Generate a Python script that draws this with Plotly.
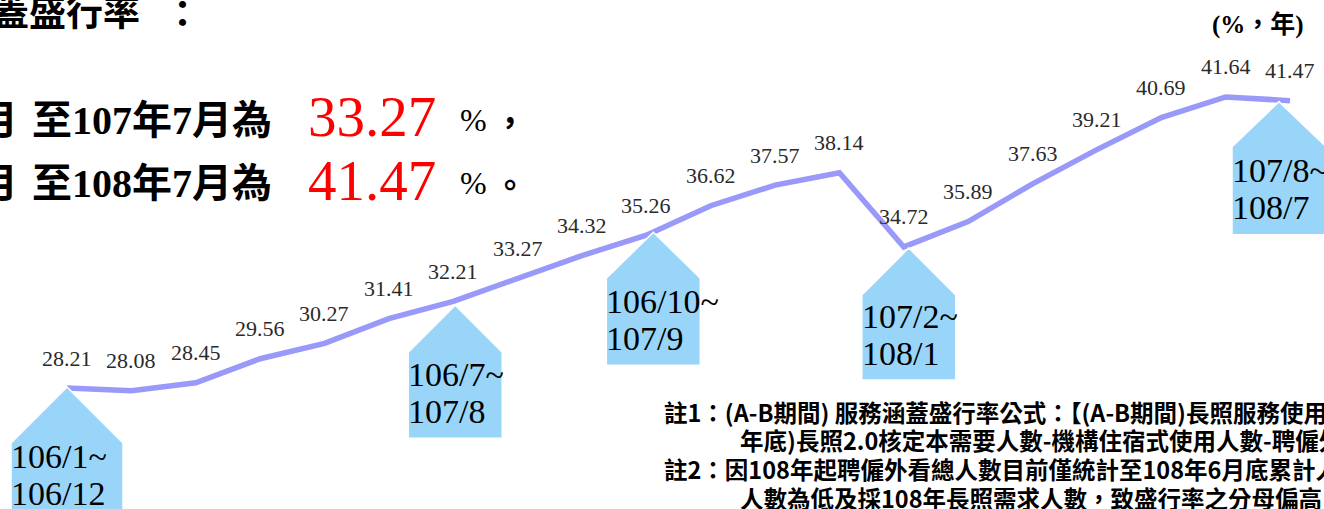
import plotly.graph_objects as go

# ---------------- data ----------------
values = [28.21, 28.08, 28.45, 29.56, 30.27, 31.41, 32.21, 33.27, 34.32, 35.26,
          36.62, 37.57, 38.14, 34.72, 35.89, 37.63, 39.21, 40.69, 41.64, 41.47]
positions = list(range(len(values)))

callout_index = [0, 6, 9, 13, 19]
callout_line1 = ["106/1~", "106/7~", "106/10~", "107/2~", "107/8~"]
callout_line2 = ["106/12", "107/8", "107/9", "108/1", "108/7"]

headline_index = [7, 19]
unit_label = "(%，年)"
title_tail = "蓋盛行率"
line_prefix = ["至107年7月為", "至108年7月為"]
line_end = ["，", "。"]
notes = [
    "註1：(A-B期間) 服務涵蓋盛行率公式：【(A-B期間)長照服務使用",
    "年底)長照2.0核定本需要人數-機構住宿式使用人數-聘僱外",
    "註2：因108年起聘僱外看總人數目前僅統計至108年6月底累計人",
    "人數為低及採108年長照需求人數，致盛行率之分母偏高",
]

# ---------------- layout helpers ----------------
W, H = 1324, 509


def px(x):
    return x / W


def py(y):
    return 1 - y / H


SERIF = "Liberation Serif, Noto Sans CJK TC, serif"
CJK = "Noto Sans CJK TC, sans-serif"

fig = go.Figure()
fig.add_trace(go.Scatter(
    x=positions, y=values, mode="lines",
    line=dict(color="#9999FA", width=5.5),
    hoverinfo="skip",
))

annotations = []
# data labels
for i, v in zip(positions, values):
    annotations.append(dict(
        x=i, y=v, xref="x", yref="y", text=f"{v:.2f}", showarrow=False,
        yshift=30, font=dict(family="Liberation Serif", size=22, color="#2a2a2a"),
    ))

# callouts (pentagon arrows pointing at points)
tip_dx = [0, 2, 7, 5, -11]
tip_dy = [1, -4, 3, -1, -1]
half_w = [56, 47, 47, 47, 47]
shoulder = [56, 47, 46, 47, 45]
height = [175, 133, 133, 132, 133]
shapes = []
for k, idx in enumerate(callout_index):
    dx, dy, hw, sh, h = tip_dx[k], tip_dy[k], half_w[k], shoulder[k], height[k]
    path = (f"M {dx},{dy} L {dx + hw},{dy - sh} L {dx + hw},{dy - h} "
            f"L {dx - hw},{dy - h} L {dx - hw},{dy - sh} Z")
    shapes.append(dict(
        type="path", xref="x", yref="y", xsizemode="pixel", ysizemode="pixel",
        xanchor=positions[idx], yanchor=values[idx], path=path,
        fillcolor="#99D5F9", line=dict(color="white", width=1.5), layer="above",
    ))
    for txt, off in ((callout_line1[k], 69), (callout_line2[k], 106)):
        annotations.append(dict(
            x=positions[idx], y=values[idx], xref="x", yref="y", text=txt,
            showarrow=False, xanchor="left", yanchor="middle",
            xshift=dx - hw - 2, yshift=dy - off,
            font=dict(family="Liberation Serif", size=34, color="black"),
        ))

# headline texts (top-left)
annotations.append(dict(x=px(-10), y=py(10), xref="paper", yref="paper",
                        text=title_tail, showarrow=False, xanchor="left", yanchor="middle",
                        font=dict(family=CJK, size=37, color="black", weight="bold")))
annotations.append(dict(x=px(183), y=py(12), xref="paper", yref="paper",
                        text="：", showarrow=False, xanchor="center", yanchor="middle",
                        font=dict(family=CJK, size=37, color="black", weight="bold")))
rows_y = [120, 183]
for r, yy in enumerate(rows_y):
    annotations.append(dict(x=px(-24), y=py(yy), xref="paper", yref="paper",
                            text="月", showarrow=False, xanchor="left", yanchor="middle",
                            font=dict(family=SERIF, size=40, color="black", weight="bold")))
    annotations.append(dict(x=px(30), y=py(yy), xref="paper", yref="paper",
                            text=line_prefix[r], showarrow=False, xanchor="left", yanchor="middle",
                            font=dict(family=SERIF, size=40, color="black", weight="bold")))
    annotations.append(dict(x=px(372), y=py(yy - 3), xref="paper", yref="paper",
                            text=f"{values[headline_index[r]]:.2f}", showarrow=False,
                            xanchor="center", yanchor="middle",
                            font=dict(family="Liberation Serif", size=57, color="#FF0000")))
    annotations.append(dict(x=px(473), y=py(yy), xref="paper", yref="paper",
                            text="%", showarrow=False, xanchor="center", yanchor="middle",
                            font=dict(family="Liberation Serif", size=32, color="black")))
    annotations.append(dict(x=px(492), y=py(yy), xref="paper", yref="paper",
                            text=line_end[r], showarrow=False, xanchor="left", yanchor="middle",
                            font=dict(family=CJK, size=32, color="black", weight="bold")))

# unit label
annotations.append(dict(x=px(1258), y=py(25), xref="paper", yref="paper",
                        text=unit_label, showarrow=False, xanchor="center", yanchor="middle",
                        font=dict(family=SERIF, size=25, color="black", weight="bold")))

# notes
note_x = [662, 738, 662, 738]
note_y = [412, 440, 469, 498]
for t, nx, ny in zip(notes, note_x, note_y):
    annotations.append(dict(x=px(nx), y=py(ny), xref="paper", yref="paper",
                            text=t, showarrow=False, xanchor="left", yanchor="middle",
                            font=dict(family=CJK, size=23.5, color="black", weight="bold")))

fig.update_layout(
    width=W, height=H,
    margin=dict(l=0, r=0, t=0, b=0),
    paper_bgcolor="white", plot_bgcolor="white",
    showlegend=False,
    xaxis=dict(visible=False, range=[-1.041, 19.528], fixedrange=True),
    yaxis=dict(visible=False, range=[22.626, 46.115], fixedrange=True),
    shapes=shapes,
    annotations=annotations,
)

fig.write_html(
    "out.html",
    config={"displayModeBar": False},
    post_script="document.body.style.margin='0px';document.body.style.overflow='hidden';",
)
